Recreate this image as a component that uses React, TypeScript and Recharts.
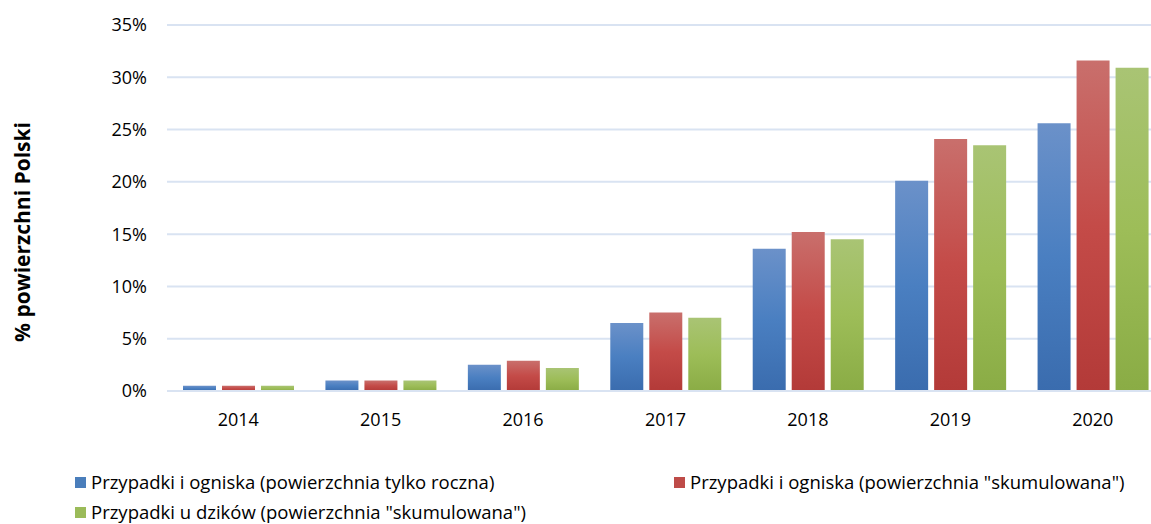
import { BarChart, Bar, XAxis, YAxis, CartesianGrid, Legend } from 'recharts'

const YEARS = ['2014', '2015', '2016', '2017', '2018', '2019', '2020']
const ROCZNA = [0.5, 1.0, 2.5, 6.5, 13.6, 20.1, 25.6]
const SKUMULOWANA = [0.5, 1.0, 2.9, 7.5, 15.2, 24.1, 31.6]
const DZIKI = [0.5, 1.0, 2.2, 7.0, 14.5, 23.5, 30.9]
const Y_TICKS = [0, 5, 10, 15, 20, 25, 30, 35]

const SERIES = [
  { key: 'roczna', name: 'Przypadki i ogniska (powierzchnia tylko roczna)', grad: 'gBlue', swatch: '#4a7ebb', stops: ['#6b91c9', '#4a7fc1', '#3a6cae'] },
  { key: 'skum', name: 'Przypadki i ogniska (powierzchnia "skumulowana")', grad: 'gRed', swatch: '#be4b48', stops: ['#c96f6c', '#c44b48', '#b33a38'] },
  { key: 'dziki', name: 'Przypadki u dzików (powierzchnia "skumulowana")', grad: 'gGreen', swatch: '#9bbb59', stops: ['#a9c474', '#9dbd58', '#8aac45'] },
]

const data = YEARS.map((y, i) => ({
  year: y,
  roczna: ROCZNA[i],
  skum: SKUMULOWANA[i],
  dziki: DZIKI[i],
}))

const FONT = '"Open Sans", Lato, sans-serif'

function LegendBox() {
  const item = (s: typeof SERIES[number]) => (
    <div key={s.key} style={{ display: 'flex', alignItems: 'center', height: 30, whiteSpace: 'nowrap' }}>
      <span style={{ display: 'inline-block', width: 11, height: 11, background: s.swatch, marginRight: 5 }} />
      <span style={{ lineHeight: '20px' }}>{s.name}</span>
    </div>
  )
  return (
    <div style={{ position: 'relative', fontFamily: FONT, fontSize: 18.5, color: '#000', height: 60 }}>
      <div style={{ position: 'absolute', left: 75, top: 0 }}>{item(SERIES[0])}</div>
      <div style={{ position: 'absolute', left: 674, top: 0 }}>{item(SERIES[1])}</div>
      <div style={{ position: 'absolute', left: 75, top: 30 }}>{item(SERIES[2])}</div>
    </div>
  )
}

function AxisTitle() {
  return (
    <text x={22} y={232} transform="rotate(-90 22 232)" textAnchor="middle" dominantBaseline="central"
      fontFamily={FONT} fontSize={21} fontWeight="bold" fill="#000">
      % powierzchni Polski
    </text>
  )
}

export default function App() {
  return (
    <div style={{ position: 'absolute', left: 0, top: 0, width: 1151, height: 524, overflow: 'hidden', background: '#fff' }}>
      <BarChart width={1164} height={524} data={data} margin={{ top: 25, right: 0, left: 0, bottom: 0 }}
        barSize={33} barGap={6}>
        <defs>
          {SERIES.map(s => (
            <linearGradient key={s.grad} id={s.grad} x1="0" y1="0" x2="0" y2="1">
              <stop offset="0%" stopColor={s.stops[0]} />
              <stop offset="50%" stopColor={s.stops[1]} />
              <stop offset="100%" stopColor={s.stops[2]} />
            </linearGradient>
          ))}
        </defs>
        <CartesianGrid vertical={false} stroke="#d9e3f2" strokeWidth={2} />
        <XAxis dataKey="year" height={133} tickSize={0} tickMargin={22} axisLine={{ stroke: '#d9e3f2', strokeWidth: 2 }}
          tick={{ fontFamily: FONT, fontSize: 18, fill: '#000' }} />
        <YAxis width={167} domain={[0, 35]} ticks={Y_TICKS} tickSize={0} tickMargin={20} axisLine={false}
          tickFormatter={(v: number) => `${v}%`} tick={{ fontFamily: FONT, fontSize: 18, fill: '#000' }}
          label={{ content: () => <AxisTitle /> }} />
        <Legend verticalAlign="middle" layout="horizontal" content={() => <LegendBox />}
          wrapperStyle={{ top: 467, left: 0, width: 1151, bottom: 'auto' }} />
        {SERIES.map(s => (
          <Bar key={s.key} dataKey={s.key} name={s.name} fill={`url(#${s.grad})`} isAnimationActive={false} />
        ))}
      </BarChart>
    </div>
  )
}
